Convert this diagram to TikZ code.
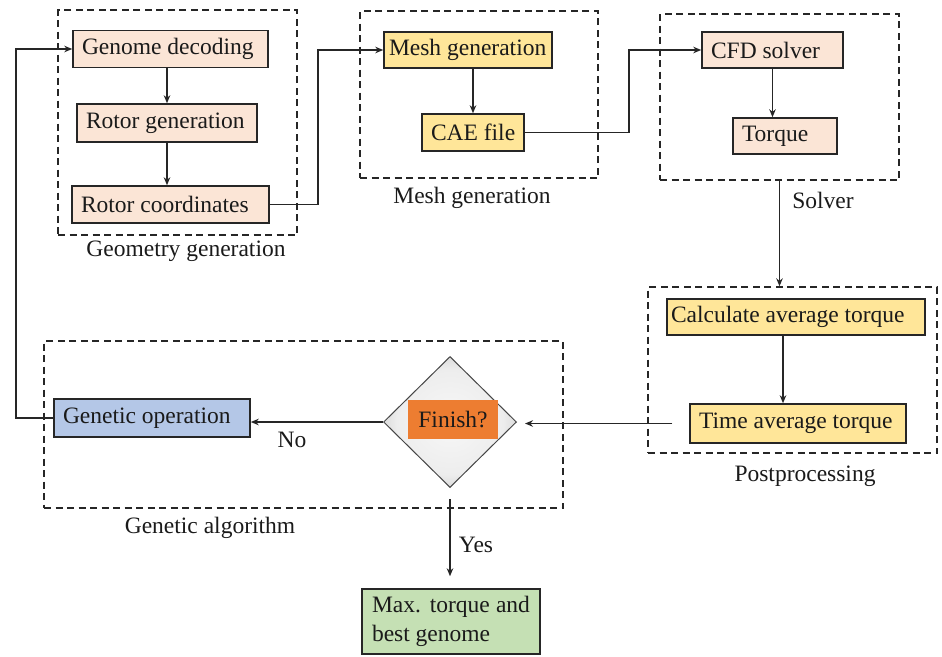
\documentclass[tikz,border=0pt]{standalone}
\usepackage{fontspec}
\setmainfont{Liberation Serif}
\usetikzlibrary{shapes.geometric,arrows.meta}

\definecolor{peach}{HTML}{FBE5D6}
\definecolor{sand}{HTML}{FFE699}
\definecolor{skyblue}{HTML}{B4C7E7}
\definecolor{mint}{HTML}{C5E0B4}
\definecolor{flame}{HTML}{ED7D31}
\definecolor{ink}{HTML}{1A1A1A}

% soft grey glow for the decision diamond
\pgfdeclareradialshading{dglow}{\pgfpoint{0bp}{0bp}}{%
  color(0bp)=(gray!6); color(20bp)=(gray!14); color(30bp)=(gray!40); color(50bp)=(gray!62)}

% left-set text of a fixed width inside a box
\newcommand\boxtext[2]{\makebox[#1][l]{#2}}

\begin{document}
\begin{tikzpicture}[x=1pt,y=-1pt,
  every node/.style={font=\fontsize{23.5}{29}\selectfont, text=ink},
  grp/.style={draw=black!85, line width=1.4pt, dash pattern=on 7pt off 4.5pt,
              inner sep=0pt, fill=none},
  bx/.style={draw=black!85, line width=1.5pt, fill=#1,
             inner xsep=9pt, inner ysep=0pt, minimum height=37pt},
  lbl/.style={inner sep=0pt},
  ln/.style={draw=black!85, line width=1.6pt},
  arr/.style={ln, -{Stealth[length=8pt,width=6.5pt]}}]

\useasboundingbox (0,0) rectangle (942,656);

% dashed stage frames
\node[grp, minimum width=239pt, minimum height=225pt] (G1) at (177.5,122.5) {};
\node[grp, minimum width=238pt, minimum height=167pt] (G2) at (479,94.5) {};
\node[grp, minimum width=239pt, minimum height=166pt] (G3) at (779.5,97) {};
\node[grp, minimum width=289pt, minimum height=166pt] (G4) at (792.5,370) {};
\node[grp, minimum width=519pt, minimum height=167pt] (G5) at (303.5,424.5) {};

% stage captions
\node[lbl] (L1) at (186,251) {Geometry generation};
\node[lbl] (L2) at (472,198) {Mesh generation};
\node[lbl] (L3) at (823,200) {Solver};
\node[lbl] (L4) at (805,476) {Postprocessing};
\node[lbl] (L5) at (210,528) {Genetic algorithm};

% geometry generation
\node[bx=peach] (gd) at (170.5,49) {\boxtext{177pt}{Genome decoding}};
\node[bx=peach, minimum height=38pt] (rg) at (167,123) {\boxtext{162pt}{Rotor generation}};
\node[bx=peach] (rc) at (170.5,204.5) {\boxtext{179pt}{Rotor coordinates}};

% mesh generation
\node[bx=sand, inner xsep=5pt, minimum height=36pt] (mg) at (468,50) {\boxtext{158pt}{Mesh generation}};
\node[bx=sand] (cae) at (473,132.5) {\boxtext{84pt}{CAE file}};

% solver
\node[bx=peach, minimum height=36pt] (cfd) at (772.5,50) {\boxtext{123pt}{CFD solver}};
\node[bx=peach, minimum height=36pt] (tq) at (785,136) {\boxtext{86pt}{Torque}};

% postprocessing
\node[bx=sand, inner xsep=4pt, minimum height=36pt] (ca) at (796,317) {\boxtext{250pt}{Calculate average torque}};
\node[bx=sand, minimum height=39pt] (ta) at (798,423.5) {\boxtext{198pt}{Time average torque}};

% genetic algorithm
\node[bx=skyblue, minimum height=38pt] (go) at (152,418) {\boxtext{178pt}{Genetic operation}};
\node[diamond, draw=gray!55!black, line width=1pt, minimum width=133pt,
      minimum height=131pt, inner sep=0pt, shading=dglow] (fin) at (450,422) {};
\node[fill=flame, minimum width=90pt, minimum height=39pt, inner sep=0pt] (finlbl) at (453,419.5) {Finish?};

% result
\node[draw=black!85, line width=1.5pt, fill=mint, text width=158pt, align=justify,
      minimum width=178pt, minimum height=65pt, inner xsep=10pt, inner ysep=2pt] (mx) at (451,621.5)
      {Max. torque and best genome};

% flow inside the stages
\draw[arr] (rg.north |- gd.south) -- (rg.north);
\draw[arr] (rg.south) -- (rg.south |- rc.north);
\draw[arr] (cae.north |- mg.south) -- (cae.north);
\draw[arr] (cfd.south) -- (cfd.south |- tq.north);
\draw[arr] ([xshift=-13pt]ca.south) -- ([xshift=-13pt]ca.south |- ta.north);

% flow between the stages
\draw[arr] (rc.east) -- ++(48,0) |- (mg.west);
\draw[arr] (cae.east) -- ++(104,0) |- (cfd.west);
\draw[arr] (G3.south) -- (G3.south |- G4.north);
\draw[arr, shorten <=17pt, shorten >=8pt] (ta.west) -- (fin.east |- ta.west);
\draw[arr] (fin.west) -- (go.east |- fin.west);
\draw[arr, shorten <=11pt, shorten >=12pt] (fin.south) -- (fin.south |- mx.north);
\draw[arr] (go.west) -- ++(-37,0) |- (gd.west);

% branch labels
\node[lbl] (no) at (292,440) {No};
\node[lbl] (yes) at (476,545) {Yes};

\end{tikzpicture}
\end{document}
